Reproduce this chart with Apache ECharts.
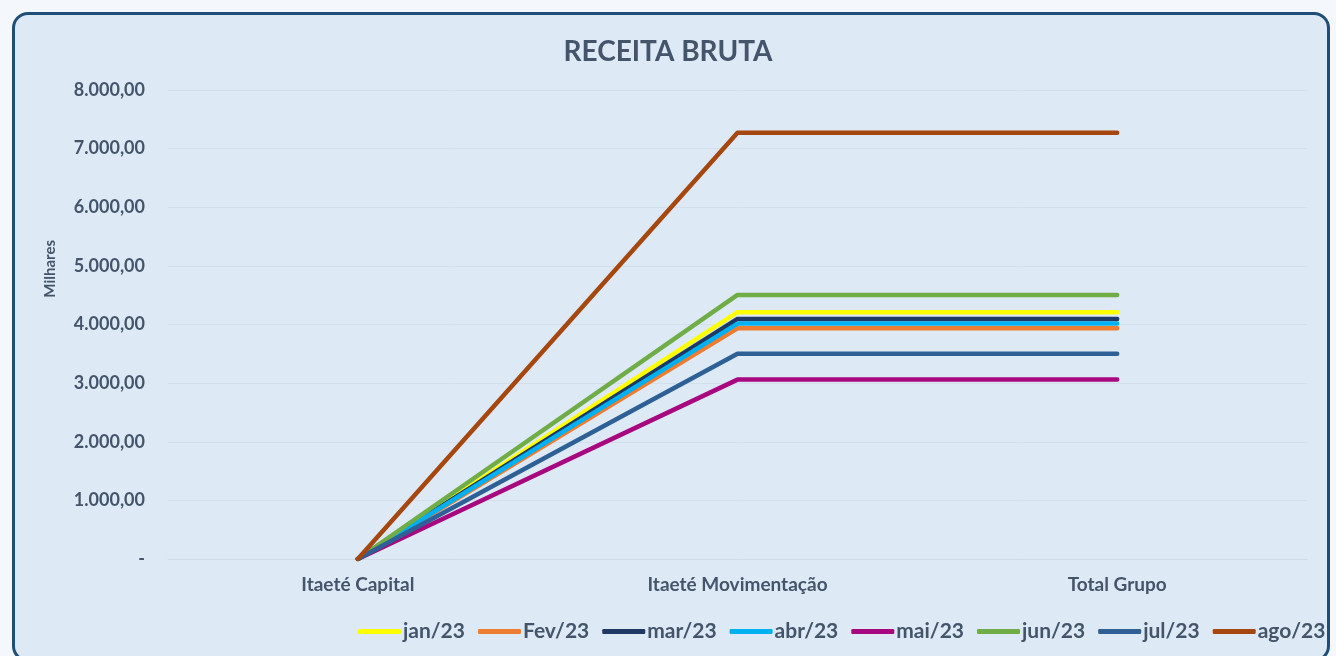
<!DOCTYPE html>
<html>
<head>
<meta charset="utf-8">
<script src="https://cdn.jsdelivr.net/npm/echarts@6/dist/echarts.min.js"></script>
<style>
  html, body { margin: 0; padding: 0; background: #f4f8fc; }
  #card {
    position: absolute; left: 12px; top: 12px; width: 1318px; height: 650px;
    background: #dde9f5; border: 3px solid #1f4e79; border-radius: 16px; box-sizing: border-box;
  }
  #chart { position: absolute; left: 0; top: 0; width: 1336px; height: 656px; }
</style>
</head>
<body>
<div id="card"></div>
<div id="chart"></div>
<script>
// dados
const categories = ['Itaeté Capital', 'Itaeté Movimentação', 'Total Grupo'];
const seriesNames = ['jan/23', 'Fev/23', 'mar/23', 'abr/23', 'mai/23', 'jun/23', 'jul/23', 'ago/23'];
const jan23 = [0, 4210, 4210];
const fev23 = [0, 3935, 3935];
const mar23 = [0, 4095, 4095];
const abr23 = [0, 4015, 4015];
const mai23 = [0, 3060, 3060];
const jun23 = [0, 4505, 4505];
const jul23 = [0, 3500, 3500];
const ago23 = [0, 7270, 7270];
const seriesValues = [jan23, fev23, mar23, abr23, mai23, jun23, jul23, ago23];
const colors = ['#ffff00', '#ed7d31', '#1f3864', '#00b0f0', '#a8087f', '#70ad47', '#2e6096', '#a5470f'];

const txt = '#44546a';
const font = 'Lato, "Open Sans", sans-serif';

const chart = echarts.init(document.getElementById('chart'), null, { renderer: 'canvas' });

const fmt = (v) => v === 0 ? '-' : v.toLocaleString('pt-BR', { minimumFractionDigits: 2, maximumFractionDigits: 2 });

chart.setOption({
  backgroundColor: 'transparent',
  animation: false,
  color: colors,
  title: {
    text: 'RECEITA BRUTA', left: 'center', top: 33,
    textStyle: { color: txt, fontSize: 28, fontWeight: 'bold', fontFamily: font }
  },
  legend: {
    left: 353, right: 0, top: 616,
    icon: 'roundRect', itemWidth: 43, itemHeight: 5, itemGap: 13,
    textStyle: { color: txt, fontSize: 21, fontWeight: 'bold', fontFamily: font, padding: [0, 0, 0, -3] },
    data: seriesNames
  },
  grid: { left: 168, right: 29, top: 90, bottom: 97 },
  xAxis: {
    type: 'category', data: categories, boundaryGap: true,
    axisLine: { lineStyle: { color: '#d0dbe6', width: 1 } },
    axisTick: { show: false },
    axisLabel: { color: txt, fontSize: 19, fontWeight: 'bold', fontFamily: font, margin: 16 }
  },
  yAxis: {
    type: 'value', min: 0, max: 8000, interval: 1000,
    axisLine: { show: false }, axisTick: { show: false },
    splitLine: { lineStyle: { color: '#d3e0ec', width: 1 } },
    axisLabel: { color: txt, fontSize: 18, fontWeight: 'bold', fontFamily: font, margin: 23, formatter: fmt }
  },
  graphic: [{
    type: 'text', left: 43, top: 240, rotation: Math.PI / 2,
    style: { text: 'Milhares', fill: txt, fontSize: 15, fontWeight: 'bold', fontFamily: font }
  }],
  series: seriesNames.map((name, i) => ({
    name, type: 'line', data: seriesValues[i],
    showSymbol: false, symbol: 'none',
    lineStyle: { width: 4.5, color: colors[i], cap: 'round', join: 'round' },
    itemStyle: { color: colors[i] }
  }))
});
</script>
</body>
</html>
